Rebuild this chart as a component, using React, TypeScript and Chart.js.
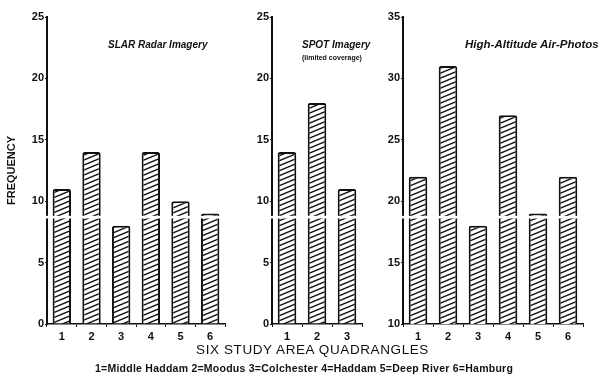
import React, { useEffect, useRef } from 'react';
import { Chart, registerables } from 'chart.js';

Chart.register(...registerables);

// ---- data ----
const slarLabels = ['1', '2', '3', '4', '5', '6'];
const slarValues = [11, 14, 8, 14, 10, 9];
const spotLabels = ['1', '2', '3'];
const spotValues = [14, 18, 11];
const airLabels = ['1', '2', '3', '4', '5', '6'];
const airValues = [22, 31, 18, 27, 19, 22];
const lowAxisRange = [0, 25];
const highAxisRange = [10, 35];
const breakValues = [8.7, 8.7, 18.7];
const panelTitles = ['SLAR Radar Imagery', 'SPOT Imagery', 'High-Altitude Air-Photos'];
const spotNote = '(limited coverage)';
const yTitle = 'FREQUENCY';
const xTitle = 'SIX STUDY AREA QUADRANGLES';
const keyText = '1=Middle Haddam 2=Moodus 3=Colchester 4=Haddam 5=Deep River 6=Hamburg';

const INK = '#111';
const FONT = '"Liberation Sans", Arial, sans-serif';

function makeHatch(): CanvasPattern | string {
  const w = 12;
  const h = 5;
  const c = document.createElement('canvas');
  c.width = w;
  c.height = h;
  const ctx = c.getContext('2d');
  if (!ctx) return '#fff';
  ctx.fillStyle = '#fff';
  ctx.fillRect(0, 0, w, h);
  ctx.strokeStyle = INK;
  ctx.lineWidth = 1.4;
  for (const dy of [-h, 0, h]) {
    ctx.beginPath();
    ctx.moveTo(-w, 2 * h + dy);
    ctx.lineTo(2 * w, -h + dy);
    ctx.stroke();
  }
  return ctx.createPattern(c, 'repeat') || '#fff';
}

const breakPlugin = {
  id: 'breakBand',
  afterDatasetsDraw(chart: any, _args: any, opts: any) {
    const y = chart.scales.y.getPixelForValue(opts.value);
    const { left, right } = chart.chartArea;
    const ctx = chart.ctx;
    ctx.save();
    ctx.fillStyle = '#fff';
    ctx.fillRect(left - 3, y - 1.3, right - left + 3, 2.6);
    ctx.restore();
  },
};

type PanelProps = {
  labels: string[];
  values: number[];
  range: number[];
  breakValue: number;
  left: number;
  width: number;
  axisWidth: number;
  axisTitle?: string;
};

function Panel({ labels, values, range, breakValue, left, width, axisWidth, axisTitle }: PanelProps) {
  const ref = useRef<HTMLCanvasElement | null>(null);
  useEffect(() => {
    if (!ref.current) return;
    const chart = new Chart(ref.current, {
      type: 'bar',
      data: {
        labels,
        datasets: [
          {
            data: values,
            backgroundColor: makeHatch() as any,
            borderColor: INK,
            borderWidth: 2,
            borderRadius: 2,
            categoryPercentage: 1,
            barPercentage: 0.62,
          },
        ],
      },
      options: {
        animation: false,
        responsive: false,
        layout: { padding: { top: 17, right: 5, left: 0, bottom: 0 } },
        plugins: {
          legend: { display: false },
          tooltip: { enabled: false },
          breakBand: { value: breakValue },
        } as any,
        scales: {
          x: {
            grid: { display: true, drawOnChartArea: false, drawTicks: true, tickLength: 3, color: INK, lineWidth: 1 },
            border: { display: true, color: INK, width: 1.5 },
            ticks: { color: INK, font: { family: FONT, size: 11, weight: 'bold' }, padding: 3 },
            afterFit: (s: any) => {
              s.height = 21;
            },
          },
          y: {
            min: range[0],
            max: range[1],
            grid: { display: true, drawOnChartArea: false, drawTicks: true, tickLength: 2, color: INK, lineWidth: 1 },
            border: { display: true, color: INK, width: 2 },
            ticks: { stepSize: 5, color: INK, font: { family: FONT, size: 11, weight: 'bold' }, padding: 1 },
            title: {
              display: !!axisTitle,
              text: axisTitle || '',
              color: INK,
              font: { family: FONT, size: 11, weight: 'bold' },
              padding: { top: 5, bottom: 0 },
            },
            afterFit: (s: any) => {
              s.width = axisWidth;
            },
          },
        },
      },
      plugins: [breakPlugin],
    });
    return () => chart.destroy();
  }, []);
  return (
    <canvas
      ref={ref}
      width={width}
      height={345}
      style={{ position: 'absolute', left, top: 0, width, height: 345 }}
    />
  );
}

const titleStyle: React.CSSProperties = {
  position: 'absolute',
  fontFamily: FONT,
  fontStyle: 'italic',
  fontWeight: 'bold',
  fontSize: 10,
  color: INK,
  whiteSpace: 'nowrap',
  lineHeight: 1,
};

export default function App() {
  return (
    <div
      style={{
        position: 'fixed',
        left: 0,
        top: 0,
        width: 605,
        height: 382,
        background: '#fff',
        overflow: 'hidden',
        fontFamily: FONT,
      }}
    >
      <Panel labels={slarLabels} values={slarValues} range={lowAxisRange} breakValue={breakValues[0]} left={0} width={230} axisWidth={47} axisTitle={yTitle} />
      <Panel labels={spotLabels} values={spotValues} range={lowAxisRange} breakValue={breakValues[1]} left={245} width={122} axisWidth={27} />
      <Panel labels={airLabels} values={airValues} range={highAxisRange} breakValue={breakValues[2]} left={376} width={212} axisWidth={27} />

      <div style={{ ...titleStyle, left: 108, top: 40 }}>{panelTitles[0]}</div>
      <div style={{ ...titleStyle, left: 302, top: 40 }}>{panelTitles[1]}</div>
      <div style={{ ...titleStyle, left: 302, top: 54, fontSize: 7, fontStyle: 'normal' }}>{spotNote}</div>
      <div style={{ ...titleStyle, left: 465, top: 39, fontSize: 11.5 }}>{panelTitles[2]}</div>

      <div
        style={{
          position: 'absolute',
          left: 0,
          width: 625,
          top: 343,
          textAlign: 'center',
          fontSize: 13.5,
          color: INK,
          whiteSpace: 'nowrap',
          lineHeight: 1,
          letterSpacing: 0.6,
        }}
      >
        {xTitle}
      </div>
      <div
        style={{
          position: 'absolute',
          left: 0,
          width: 608,
          top: 363,
          textAlign: 'center',
          fontSize: 10.5,
          fontWeight: 'bold',
          color: INK,
          whiteSpace: 'nowrap',
          lineHeight: 1,
          letterSpacing: 0.25,
        }}
      >
        {keyText}
      </div>
    </div>
  );
}
